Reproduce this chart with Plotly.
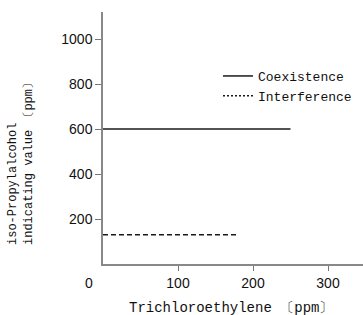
import plotly.graph_objects as go

# Data
series_names = ["Coexistence", "Interference"]
coex_x = [0, 250]
coex_y = [600, 600]
interf_x = [0, 180]
interf_y = [130, 130]
x_ticks = [100, 200, 300]
y_ticks = [200, 400, 600, 800, 1000]

W, H = 363, 315
L, R, T, B = 103, 0, 12, 51
pw, ph = W - L - R, H - T - B

mono = "Liberation Mono"
sans = "Liberation Sans"

fig = go.Figure()
fig.add_trace(go.Scatter(x=coex_x, y=coex_y, mode="lines", showlegend=False,
                         line=dict(color="#1a1a1a", width=1.5)))
fig.add_trace(go.Scatter(x=interf_x, y=interf_y, mode="lines", showlegend=False,
                         line=dict(color="#1a1a1a", width=1.5, dash="5px,3px")))
# legend entries
fig.add_trace(go.Scatter(x=[None], y=[None], mode="lines", name=series_names[0],
                         line=dict(color="#1a1a1a", width=1.5)))
fig.add_trace(go.Scatter(x=[None], y=[None], mode="lines", name=series_names[1],
                         line=dict(color="#1a1a1a", width=1.5, dash="2px,2px")))

fig.update_layout(
    width=W, height=H,
    margin=dict(l=L, r=R, t=T, b=B),
    plot_bgcolor="white", paper_bgcolor="white",
    showlegend=True,
    legend=dict(x=(218 - L) / pw, y=(H - B - 61) / ph, xanchor="left", yanchor="top",
                font=dict(family=mono, size=13, color="#111"),
                itemwidth=30, tracegroupgap=0, bgcolor="rgba(0,0,0,0)"),
    xaxis=dict(range=[0, pw / 0.75], tickvals=x_ticks, ticks="outside", ticklen=5,
               tickcolor="#777", showline=True, linecolor="#888", linewidth=1.5,
               showgrid=False, zeroline=False,
               tickfont=dict(family=sans, size=14, color="#111")),
    yaxis=dict(range=[0, ph / 0.225], tickvals=y_ticks, ticks="outside", ticklen=6,
               tickcolor="#777", showline=True, linecolor="#888", linewidth=1.5,
               showgrid=False, zeroline=False,
               tickfont=dict(family=sans, size=14, color="#111")),
    annotations=[
        dict(text="0", xref="paper", yref="paper", x=(89 - L) / pw, y=-(283 - (H - B)) / ph,
             xanchor="center", yanchor="middle", showarrow=False,
             font=dict(family=sans, size=14, color="#111")),
        dict(text="Trichloroethylene 〔ppm〕", xref="paper", yref="paper",
             x=(231 - L) / pw, y=-(308 - (H - B)) / ph, xanchor="center", yanchor="middle",
             showarrow=False, font=dict(family=mono, size=14, color="#111")),
        dict(text="iso-Propylalcohol<br>indicating value 〔ppm〕", xref="paper", yref="paper",
             x=(21 - L) / pw, y=((H - B) - 247) / ph, xanchor="center", yanchor="bottom",
             textangle=-90, align="left", showarrow=False,
             font=dict(family=mono, size=12, color="#111")),
    ],
)

fig.write_html("out.html", config={"displayModeBar": False},
               post_script="document.body.style.margin='0';")
